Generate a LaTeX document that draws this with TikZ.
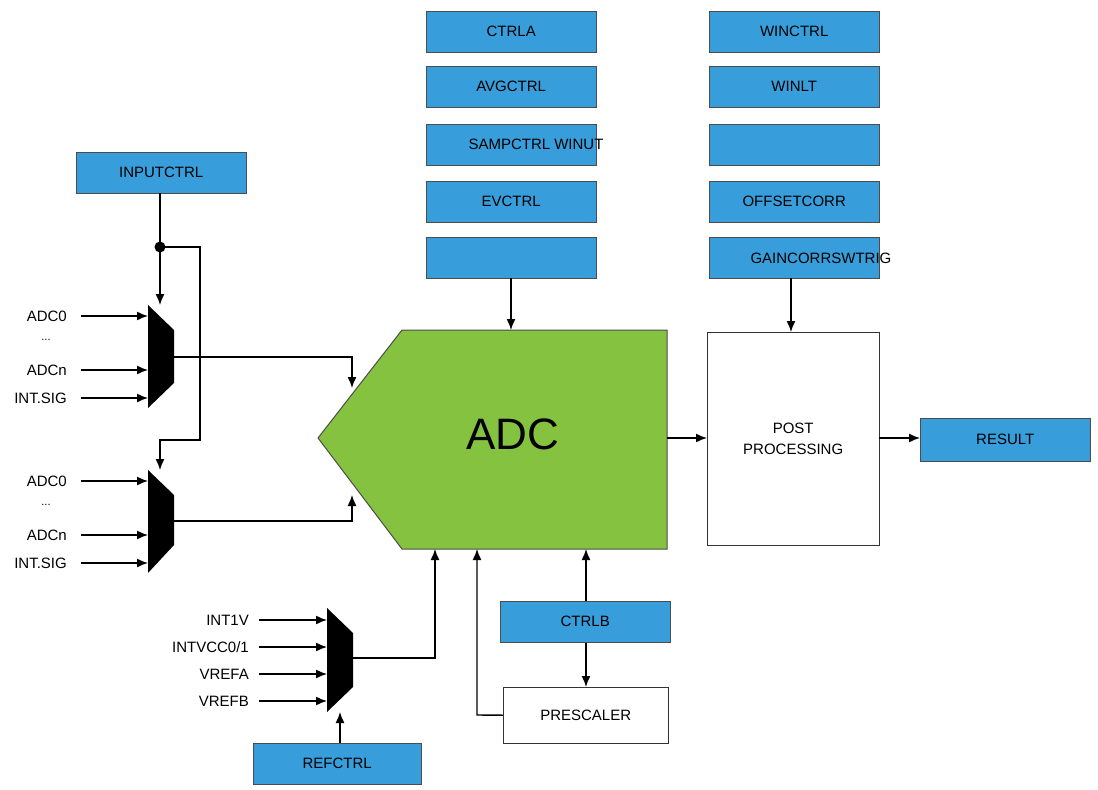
\documentclass[tikz,border=0pt]{standalone}
\usepackage{fontspec}
\setmainfont{Liberation Sans}
\definecolor{RegBlue}{rgb}{0.22, 0.62, 0.86}
\definecolor{AdcGreen}{rgb}{0.52, 0.76, 0.25}
\tikzset{
  reg/.style={draw=black!70, fill=RegBlue, minimum width=170pt, minimum height=41pt, inner sep=0pt, font=\fontsize{15}{17}\selectfont, anchor=north west},
  plain/.style={draw=black!80, fill=white, inner sep=0pt, font=\fontsize{15}{17}\selectfont, anchor=north west},
  lbl/.style={inner sep=1pt, font=\fontsize{15}{17}\selectfont, anchor=east},
  wire/.style={line width=1.4pt, -{Latex[length=11pt,width=9pt]}},
}
\usetikzlibrary{arrows.meta}
\begin{document}
\begin{tikzpicture}[x=1pt,y=1pt,yscale=-1,xscale=1]
		\useasboundingbox (0,0) rectangle (1098,790);

		% Register columns on top
		\node[reg] (ctrla) at (426,11) {CTRLA};
		\node[reg] (avgctrl) at (426,66) {AVGCTRL};
		\node[reg] (sampctrl) at (426,124) {};
		\node[font=\fontsize{15}{17}\selectfont] (samptext) at (536,144) {SAMPCTRL WINUT};
		\node[reg] (evctrl) at (426,181) {EVCTRL};
		\node[reg] (blankA) at (426,237) {};
		\node[reg] (winctrl) at (709,11) {WINCTRL};
		\node[reg] (winlt) at (709,66) {WINLT};
		\node[reg] (blankB) at (709,124) {};
		\node[reg] (offset) at (709,181) {OFFSETCORR};
		\node[reg] (gaincorr) at (709,237) {};
		\node[font=\fontsize{15}{17}\selectfont, anchor=west] (gaintext) at (747,258) {GAINCORRSWTRIG};

		% Other registers
		\node[reg] (inputctrl) at (76,152) {INPUTCTRL};
		\node[reg, minimum height=43pt] (result) at (920,418) {RESULT};
		\node[reg] (ctrlb) at (500,601) {CTRLB};
		\node[reg, minimum width=168pt] (refctrl) at (253,743) {REFCTRL};

		% ADC block
		\draw[fill=AdcGreen, draw=black!70, line width=1pt] (318,438) coordinate (tip) -- (402,330) -- (667,330) -- (667,549) -- (402,549) -- cycle;
		\node[font=\fontsize{44}{48}\selectfont] (adc) at (513,434) {ADC};
		\coordinate (adcR) at (667,438);

		% White boxes
		\node[plain, minimum width=172pt, minimum height=213pt, align=center] (post) at (707,332) {POST\\[4pt]PROCESSING};
		\node[plain, minimum width=165pt, minimum height=56pt] (presc) at (503,687) {PRESCALER};

		% Multiplexers
		\fill (148,305) -- (174,330) -- (174,383) -- (148,408) -- cycle;
		\fill (148,470) -- (174,495) -- (174,545) -- (148,573) -- cycle;
		\fill (327,608) -- (353,633) -- (353,687) -- (327,712) -- cycle;

		% Inputs of first two multiplexers
		\foreach \y/\t in {316/ADC0, 370/ADCn, 398/INT.SIG, 481/ADC0, 535/ADCn, 563/INT.SIG}{
			\node[lbl] (in\y) at (68,\y) {\t};
			\draw[wire] (81,\y) -- (148,\y);
		}
		\node[font=\fontsize{11}{12}\selectfont] (dotsA) at (46,340) {...};
		\node[font=\fontsize{11}{12}\selectfont] (dotsB) at (46,505) {...};

		% Inputs of reference multiplexer
		\foreach \y/\t in {620/INT1V, 647/{INTVCC0/1}, 674/VREFA, 701/VREFB}{
			\node[lbl] (ref\y) at (250,\y) {\t};
			\draw[wire] (259,\y) -- (327,\y);
		}

		% Input control wiring
		\coordinate (junc) at (160,247);
		\fill (junc) circle (5.5pt);
		\draw[line width=1.4pt] (inputctrl.south -| junc) -- (junc);
		\draw[wire] (junc) -- (160,305);
		\draw[wire] (junc) -- (200,247) -- (200,440) -- (160,440) -- (160,470);

		% Multiplexer outputs into ADC
		\draw[wire] (174,357) -- (352,357) -- (352,388);
		\draw[wire] (174,521) -- (352,521) -- (352,495);
		\draw[wire] (353,658) -- (435,658) -- (435,549);

		% Control arrows
		\draw[wire] (511,278) -- (511,330);
		\draw[wire] (791,278) -- (791,332);
		\draw[wire] (adcR) -- (post.west |- adcR);
		\draw[wire] (post.east |- adcR) -- (result.west |- adcR);
		\draw[wire] (586,601) -- (586,549);
		\draw[wire] (586,643) -- (586,687);
		\draw[wire] (presc.west) -- (477,715) -- (477,549);
		\draw[wire] (340,743) -- (340,712);
	\end{tikzpicture}
\end{document}
